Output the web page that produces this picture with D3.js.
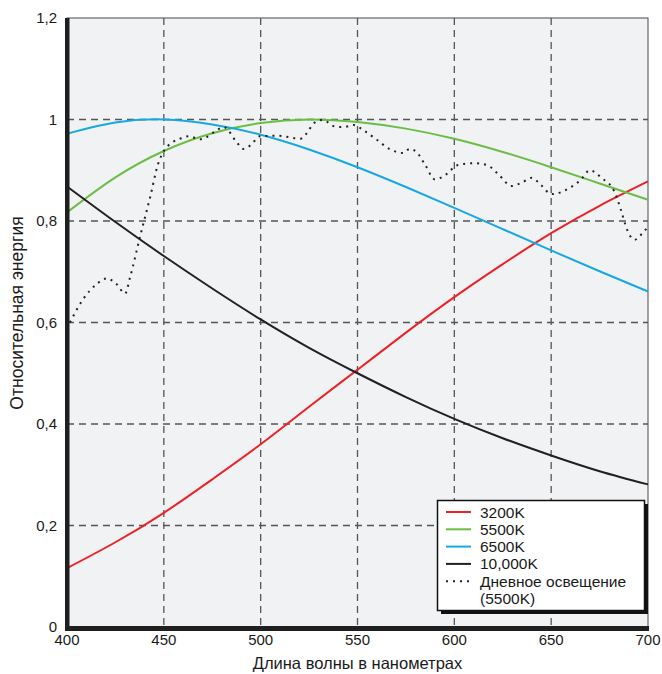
<!DOCTYPE html>
<meta charset="utf-8">
<script src="https://d3js.org/d3.v7.min.js"></script>
<style>
  body { margin: 0; background: #fff; }
  text { font-family: "Liberation Sans", Arial, sans-serif; fill: #1a1a1a; }
</style>
<div id="chart"></div>
<script>

// wavelength samples (nm) for the colour-temperature curves
var wavelengths = [400, 425, 450, 475, 500, 525, 550, 575, 600, 625, 650, 675, 700];
var k3200  = [0.116, 0.167, 0.225, 0.291, 0.360, 0.434, 0.507, 0.580, 0.650, 0.715, 0.776, 0.830, 0.878];
var k5500  = [0.817, 0.886, 0.938, 0.973, 0.993, 1.000, 0.995, 0.982, 0.962, 0.936, 0.906, 0.874, 0.842];
var k6500  = [0.972, 0.994, 1.000, 0.990, 0.970, 0.941, 0.906, 0.867, 0.826, 0.784, 0.742, 0.701, 0.661];
var k10000 = [0.868, 0.798, 0.731, 0.667, 0.606, 0.550, 0.500, 0.453, 0.410, 0.372, 0.338, 0.307, 0.281];

// daylight (5500K) measured curve
var dayWl  = [401.5, 408, 416, 420.5, 425.5, 430, 432.5, 437.5, 443, 447, 450, 454, 459, 463, 468.5, 472, 477, 481,
              487.5, 491, 495, 499.5, 509, 520.5, 524, 527.5, 532, 538.5, 543, 548, 553, 560, 566.5, 573.5, 577,
              580.5, 585, 590, 595.5, 601.5, 610, 617, 623, 629.5, 635, 640, 645, 650, 654.5, 659, 665, 670, 676,
              682.5, 686, 689, 693, 698, 700];
var dayVal = [0.600, 0.644, 0.678, 0.687, 0.676, 0.657, 0.688, 0.766, 0.848, 0.912, 0.938, 0.954, 0.963, 0.967, 0.961, 0.965, 0.978, 0.985,
              0.956, 0.942, 0.950, 0.967, 0.968, 0.962, 0.974, 0.993, 0.999, 0.986, 0.985, 0.989, 0.979, 0.960, 0.942, 0.934, 0.942,
              0.936, 0.910, 0.882, 0.891, 0.910, 0.914, 0.910, 0.891, 0.869, 0.876, 0.885, 0.870, 0.853, 0.856, 0.864, 0.880, 0.900, 0.885,
              0.859, 0.822, 0.785, 0.763, 0.780, 0.788];

var xTicks = [400, 450, 500, 550, 600, 650, 700];
var yTicks = [0, 0.2, 0.4, 0.6, 0.8, 1, 1.2];
var yTickLabels = ["0", "0,2", "0,4", "0,6", "0,8", "1", "1,2"];

var seriesNames = ["3200K", "5500K", "6500K", "10,000K"];
var seriesColors = ["#ec2227", "#6abd45", "#17a8e3", "#231f20"];

var width = 662, height = 674;
var pLeft = 67, pRight = 648, pTop = 18, pBottom = 627;

var svg = d3.select("#chart").append("svg")
  .attr("width", width)
  .attr("height", height);

var x = d3.scaleLinear().domain([400, 700]).range([pLeft, pRight]);
var y = d3.scaleLinear().domain([0, 1.2]).range([pBottom, pTop]);

// plot background
svg.append("rect")
  .attr("x", pLeft).attr("y", pTop)
  .attr("width", pRight - pLeft).attr("height", pBottom - pTop)
  .attr("fill", "#f1f2f4")
  .attr("stroke", "#4a4a4a")
  .attr("stroke-width", 1);

// dashed grid
svg.append("g")
  .selectAll("line")
  .data(xTicks.slice(1, -1))
  .enter().append("line")
    .attr("x1", function(d) { return x(d); })
    .attr("x2", function(d) { return x(d); })
    .attr("y1", pTop).attr("y2", pBottom)
    .attr("stroke", "#555")
    .attr("stroke-width", 1.3)
    .attr("stroke-dasharray", "7,5");

svg.append("g")
  .selectAll("line")
  .data(yTicks.slice(1, -1))
  .enter().append("line")
    .attr("x1", pLeft).attr("x2", pRight)
    .attr("y1", function(d) { return y(d); })
    .attr("y2", function(d) { return y(d); })
    .attr("stroke", "#555")
    .attr("stroke-width", 1.3)
    .attr("stroke-dasharray", "7,5");

// curves
var line = d3.line()
  .x(function(d) { return x(d[0]); })
  .y(function(d) { return y(d[1]); })
  .curve(d3.curveNatural);

[k3200, k5500, k6500, k10000].forEach(function(vals, i) {
  svg.append("path")
    .datum(wavelengths.map(function(w, j) { return [w, vals[j]]; }))
    .attr("d", line)
    .attr("fill", "none")
    .attr("stroke", seriesColors[i])
    .attr("stroke-width", 2);
});

svg.append("path")
  .datum(dayWl.map(function(w, j) { return [w, dayVal[j]]; }))
  .attr("d", line.curve(d3.curveMonotoneX))
  .attr("fill", "none")
  .attr("stroke", "#222")
  .attr("stroke-width", 2)
  .attr("stroke-dasharray", "2,5");

// axes bars (thick black left and bottom)
svg.append("rect")
  .attr("x", pLeft - 2).attr("y", pTop)
  .attr("width", 4.5).attr("height", pBottom - pTop + 4)
  .attr("fill", "#1f1f1f");
svg.append("rect")
  .attr("x", pLeft - 2).attr("y", pBottom - 1)
  .attr("width", pRight - pLeft + 3).attr("height", 5)
  .attr("fill", "#1f1f1f");

// tick labels
svg.append("g")
  .selectAll("text")
  .data(xTicks)
  .enter().append("text")
    .attr("x", function(d) { return x(d); })
    .attr("y", pBottom + 18)
    .attr("text-anchor", "middle")
    .style("font-size", "15px")
    .text(function(d) { return d; });

svg.append("g")
  .selectAll("text")
  .data(yTicks)
  .enter().append("text")
    .attr("x", 57)
    .attr("y", function(d) { return y(d) + 5; })
    .attr("text-anchor", "end")
    .style("font-size", "15px")
    .text(function(d, i) { return yTickLabels[i]; });

// axis titles
svg.append("text")
  .attr("x", (pLeft + pRight) / 2)
  .attr("y", 669)
  .attr("text-anchor", "middle")
  .style("font-size", "16.5px")
  .text("Длина волны в нанометрах");

svg.append("text")
  .attr("transform", "translate(23," + 313 + ") rotate(-90)")
  .attr("text-anchor", "middle")
  .style("font-size", "17.5px")
  .text("Относительная энергия");

// legend
var lg = svg.append("g");
lg.append("rect")
  .attr("x", 441).attr("y", 504)
  .attr("width", 207).attr("height", 110)
  .attr("fill", "#111");
lg.append("rect")
  .attr("x", 437.5).attr("y", 500.5)
  .attr("width", 207).attr("height", 110)
  .attr("fill", "#fff")
  .attr("stroke", "#111")
  .attr("stroke-width", 1.5);

var legendLabels = seriesNames.concat(["Дневное освещение"]);
legendLabels.forEach(function(name, i) {
  var ly = 512 + i * 17.3;
  lg.append("line")
    .attr("x1", 446).attr("x2", 471)
    .attr("y1", ly).attr("y2", ly)
    .attr("stroke", i < 4 ? seriesColors[i] : "#222")
    .attr("stroke-width", 2)
    .attr("stroke-dasharray", i < 4 ? null : "2,5");
  lg.append("text")
    .attr("x", 480).attr("y", ly + 5.5)
    .style("font-size", "15.5px")
    .text(name);
});
lg.append("text")
  .attr("x", 480).attr("y", 512 + 5 * 17.3 + 5.5)
  .style("font-size", "15.5px")
  .text("(5500K)");

</script>
